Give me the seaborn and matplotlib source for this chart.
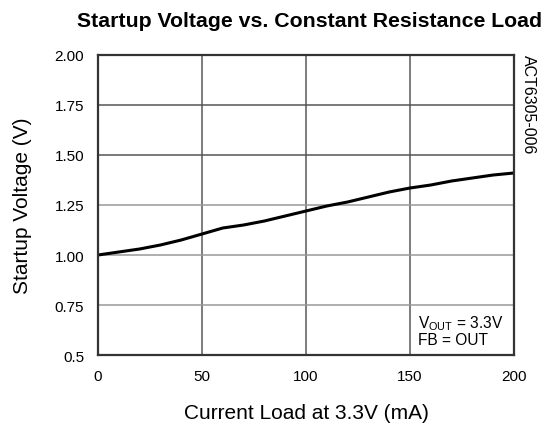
import numpy as np
import pandas as pd
import matplotlib
matplotlib.use('Agg')
import matplotlib.pyplot as plt
import seaborn as sns

# Values
current_ma = [0, 10, 20, 30, 40, 50, 60, 70, 80, 90, 100,
              110, 120, 130, 140, 150, 160, 170, 180, 190, 200]
startup_v = [1.00, 1.015, 1.03, 1.05, 1.075, 1.105, 1.135, 1.15, 1.17, 1.195, 1.22,
             1.245, 1.265, 1.29, 1.315, 1.335, 1.35, 1.37, 1.385, 1.40, 1.41]
y_ticks = [0.5, 0.75, 1.0, 1.25, 1.5, 1.75, 2.0]
y_labels = ['0.5', '0.75', '1.00', '1.25', '1.50', '1.75', '2.00']
x_ticks = [0, 50, 100, 150, 200]

df = pd.DataFrame({'Current': current_ma, 'Voltage': startup_v})

sns.set_style('white')
plt.rcParams['font.family'] = ['Liberation Sans', 'DejaVu Sans']
plt.rcParams['text.color'] = 'black'
plt.rcParams['axes.labelcolor'] = 'black'

fig = plt.figure(figsize=(5.54, 4.27), dpi=100)
ax = fig.add_axes([98 / 554, 1 - 356 / 427, 416 / 554, 300 / 427])

sns.lineplot(data=df, x='Current', y='Voltage', ax=ax, color='black', linewidth=2.2)

ax.set_xlim(0, 200)
ax.set_ylim(0.5, 2.0)
ax.set_xticks(x_ticks)
ax.set_yticks(y_ticks)
ax.set_yticklabels(y_labels)
ax.tick_params(length=0, labelsize=11, pad=10, colors='black')

for x in x_ticks[1:-1]:
    ax.axvline(x, color='#666666', linewidth=1.2, zorder=0)
for y in y_ticks[1:-1]:
    c = '#555555' if y >= 1.5 else '#999999'
    ax.axhline(y, color=c, linewidth=1.1, zorder=0)

for s in ax.spines.values():
    s.set_color('#333333')
    s.set_linewidth(1.6)

ax.set_xlabel('Current Load at 3.3V (mA)', fontsize=15)
ax.set_ylabel('Startup Voltage (V)', fontsize=15)
ax.xaxis.label.set_va('baseline')
ax.xaxis.set_label_coords(0.5, (356 - 419) / 300)
ax.yaxis.label.set_va('center')
ax.yaxis.set_label_coords((23 - 98) / 416, 0.5)

fig.text(309.5 / 554, 1 - 27 / 427, 'Startup Voltage vs. Constant Resistance Load',
         ha='center', va='baseline', fontsize=15.3, fontweight='bold')
fig.text(528 / 554, 1 - 55 / 427, 'ACT6305-006', rotation=-90, ha='center', va='top',
         fontsize=11.5)
ax.text(0.769, (356 - 328) / 300, '$\\mathregular{V_{OUT}}$ = 3.3V', transform=ax.transAxes,
        fontsize=11.2, va='baseline', ha='left')
ax.text(0.769, (356 - 345) / 300, 'FB = OUT', transform=ax.transAxes,
        fontsize=11.2, va='baseline', ha='left')

fig.savefig('out.png', dpi=100)
